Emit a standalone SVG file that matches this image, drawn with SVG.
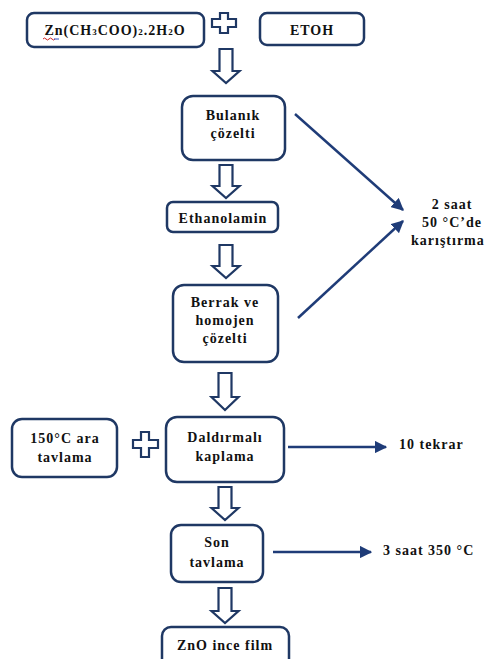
<svg xmlns="http://www.w3.org/2000/svg" width="488" height="659" viewBox="0 0 488 659">
<defs>
<style>
.box{fill:#fff;stroke:#1f3864;stroke-width:2.5}
text{font-family:'Liberation Serif','Times New Roman',serif;font-weight:700;font-size:14px;letter-spacing:1px;fill:#111}
.t{text-anchor:middle}
.ha{fill:#fff;stroke:#1f3864;stroke-width:2.2;stroke-linejoin:miter}
.ln{stroke:#1f3c78;stroke-width:2.5;fill:none}
</style>
<marker id="ah" viewBox="0 0 10 10" refX="9" refY="5" markerWidth="5" markerHeight="5" orient="auto" markerUnits="strokeWidth">
<path d="M0,0 L10,5 L0,10 z" fill="#1f3c78"/>
</marker>
</defs>
<rect width="488" height="659" fill="#fff"/>

<g id="n-zn">
<rect class="box" x="27" y="13" width="177" height="34" rx="7"/>
<text class="t" x="115" y="35" letter-spacing="0.6">Zn(CH<tspan font-size="9">3</tspan>COO)<tspan font-size="9">2</tspan>.2H<tspan font-size="9">2</tspan>O</text>
<path d="M43,39 q1.5,-2 3,0 t3,0 t3,0 t3,0" fill="none" stroke="#d02020" stroke-width="1"/>
<path d="M54,39 h5" stroke="#3050c0" stroke-width="1"/>
</g>
<g id="plus1"><path class="ha" d="M220,13 h8 v6 h8 v8 h-8 v6 h-8 v-6 h-8 v-8 h8 z"/></g>
<g id="n-etoh">
<rect class="box" x="260" y="13" width="104" height="32" rx="7"/>
<text class="t" x="312" y="35">ETOH</text>
</g>
<g id="n-bulanik">
<rect class="box" x="182" y="96" width="103" height="64" rx="11"/>
<text class="t" x="233" y="120">Bulanık</text>
<text class="t" x="233" y="138">çözelti</text>
</g>
<g id="n-ethanolamin">
<rect class="box" x="167" y="202" width="111" height="30" rx="6"/>
<text class="t" x="223" y="223">Ethanolamin</text>
</g>
<g id="n-berrak">
<rect class="box" x="173" y="285" width="105" height="77" rx="11"/>
<text class="t" x="225" y="307">Berrak ve</text>
<text class="t" x="225" y="325">homojen</text>
<text class="t" x="225" y="343">çözelti</text>
</g>
<g id="n-karistirma">
<text class="t" x="452" y="209">2 saat</text>
<text class="t" x="452" y="227">50 °C’de</text>
<text x="411" y="245" letter-spacing="0">karıştırma</text>
</g>
<g id="n-ara">
<rect class="box" x="12" y="419" width="105" height="58" rx="10"/>
<text class="t" x="65" y="443">150°C ara</text>
<text class="t" x="65" y="462">tavlama</text>
</g>
<g id="plus2"><path class="ha" d="M141,432 h8 v8 h9 v8 h-9 v9 h-8 v-9 h-8 v-8 h8 z"/></g>
<g id="n-daldirma">
<rect class="box" x="166" y="417" width="118" height="65" rx="11"/>
<text class="t" x="225" y="442">Daldırmalı</text>
<text class="t" x="225" y="461">kaplama</text>
</g>
<g id="n-tekrar"><text x="399" y="449">10 tekrar</text></g>
<g id="n-son">
<rect class="box" x="171" y="525" width="92" height="57" rx="10"/>
<text class="t" x="217" y="547">Son</text>
<text class="t" x="217" y="567">tavlama</text>
</g>
<g id="n-350"><text x="383" y="555">3 saat 350 °C</text></g>
<g id="n-zno">
<rect class="box" x="162" y="627" width="127" height="45" rx="9"/>
<text class="t" x="225" y="650">ZnO ince film</text>
</g>

<g id="connectors">
<path class="ha" d="M219.5,49 h13 v22 h7 l-13.5,12 l-13.5,-12 h7 z"/>
<path class="ha" d="M219.5,165 h13 v21 h7 l-13.5,12 l-13.5,-12 h7 z"/>
<path class="ha" d="M219.5,245 h13 v21 h7 l-13.5,12 l-13.5,-12 h7 z"/>
<path class="ha" d="M218.5,373 h13 v24 h7 l-13.5,13 l-13.5,-13 h7 z"/>
<path class="ha" d="M218.5,487 h13 v21 h7 l-13.5,12 l-13.5,-12 h7 z"/>
<path class="ha" d="M218.5,588 h13 v23 h7 l-13.5,12 l-13.5,-12 h7 z"/>
<line class="ln" x1="295" y1="114" x2="403" y2="210" marker-end="url(#ah)"/>
<line class="ln" x1="298" y1="318" x2="403" y2="221" marker-end="url(#ah)"/>
<line class="ln" x1="288" y1="447" x2="386" y2="447" marker-end="url(#ah)"/>
<line class="ln" x1="273" y1="552" x2="371" y2="552" marker-end="url(#ah)"/>
</g>
</svg>
